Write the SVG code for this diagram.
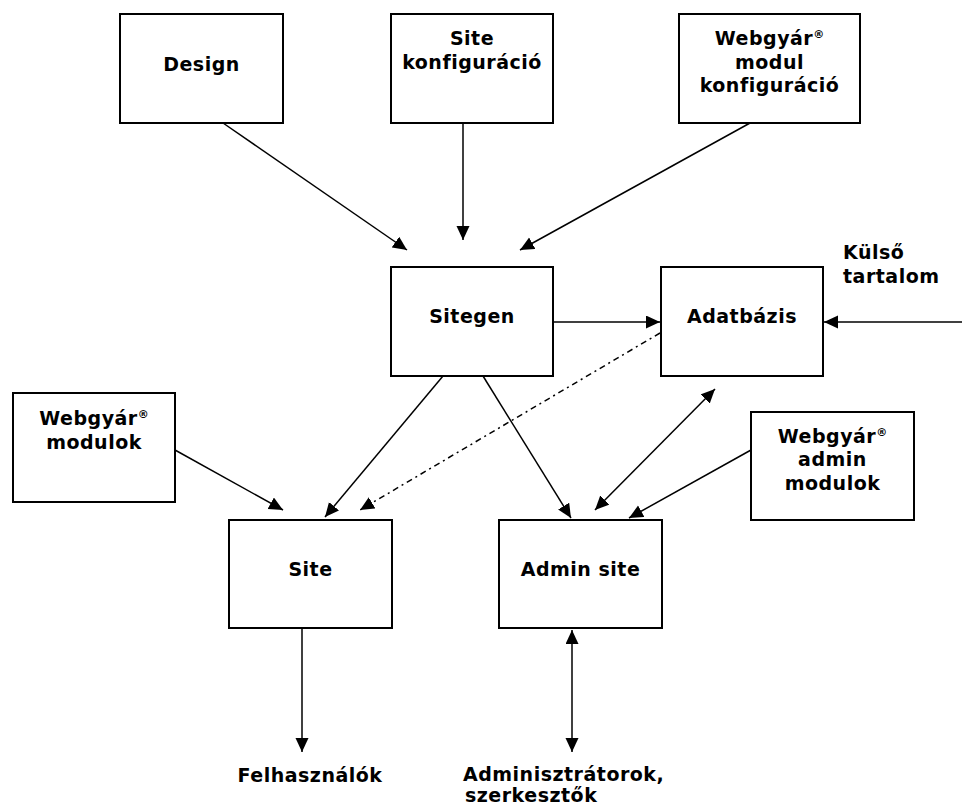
<svg xmlns="http://www.w3.org/2000/svg" width="962" height="807" viewBox="0 0 962 807">
<style>
.box{fill:#fff;stroke:#000;stroke-width:2}
.ln{fill:none;stroke:#000;stroke-width:1.5}
.dd{fill:none;stroke:#000;stroke-width:1.5;stroke-dasharray:6 4 2 4}
text{font-family:"DejaVu Sans","Verdana",sans-serif;font-weight:bold;font-size:19px;letter-spacing:0.5px;fill:#000}
.c{text-anchor:middle}
.r{font-size:11px;letter-spacing:0}
</style>
<defs>
<marker id="ah" markerUnits="userSpaceOnUse" markerWidth="16" markerHeight="14" refX="14" refY="6.5" orient="auto-start-reverse" viewBox="0 0 16 14">
<path d="M0,0 L14,6.5 L0,13 z" fill="#000"/>
</marker>
</defs>
<rect width="962" height="807" fill="#fff"/>
<g id="connectors">
<line class="ln" x1="223" y1="123" x2="407" y2="250" marker-end="url(#ah)"/>
<line class="ln" x1="463" y1="123" x2="463" y2="240" marker-end="url(#ah)"/>
<line class="ln" x1="750" y1="123" x2="520" y2="250" marker-end="url(#ah)"/>
<line class="ln" x1="553" y1="322" x2="660" y2="322" marker-end="url(#ah)"/>
<line class="ln" x1="962" y1="322" x2="824" y2="322" marker-end="url(#ah)"/>
<line class="dd" x1="660" y1="333" x2="360" y2="510" marker-end="url(#ah)"/>
<line class="ln" x1="443" y1="376" x2="325" y2="517" marker-end="url(#ah)"/>
<line class="ln" x1="483" y1="376" x2="571" y2="518" marker-end="url(#ah)"/>
<line class="ln" x1="715" y1="389" x2="595" y2="510" marker-start="url(#ah)" marker-end="url(#ah)"/>
<line class="ln" x1="751" y1="450" x2="629" y2="518" marker-end="url(#ah)"/>
<line class="ln" x1="175" y1="450" x2="283" y2="510" marker-end="url(#ah)"/>
<line class="ln" x1="302" y1="628" x2="302" y2="752" marker-end="url(#ah)"/>
<line class="ln" x1="572" y1="630" x2="572" y2="752" marker-start="url(#ah)" marker-end="url(#ah)"/>
</g>
<g id="design"><rect class="box" x="120" y="14" width="163" height="109"/><text class="c" x="201.5" y="71">Design</text></g>
<g id="site-konfig"><rect class="box" x="391" y="14" width="162" height="109"/><text class="c" x="472" y="45">Site</text><text class="c" x="472" y="69">konfiguráció</text></g>
<g id="modul-konfig"><rect class="box" x="679" y="14" width="181" height="109"/><text class="c" x="769.5" y="45">Webgyár<tspan class="r" dy="-7">®</tspan></text><text class="c" x="769.5" y="69">modul</text><text class="c" x="769.5" y="92">konfiguráció</text></g>
<g id="sitegen"><rect class="box" x="391" y="267" width="162" height="109"/><text class="c" x="472" y="323">Sitegen</text></g>
<g id="adatbazis"><rect class="box" x="661" y="267" width="162" height="109"/><text class="c" x="742" y="323">Adatbázis</text></g>
<g id="kulso"><text x="843" y="259">Külső</text><text x="843" y="283">tartalom</text></g>
<g id="modulok"><rect class="box" x="13" y="393" width="162" height="109"/><text class="c" x="94" y="425">Webgyár<tspan class="r" dy="-7">®</tspan></text><text class="c" x="94" y="449">modulok</text></g>
<g id="admin-modulok"><rect class="box" x="751" y="412" width="163" height="108"/><text class="c" x="832.5" y="443">Webgyár<tspan class="r" dy="-7">®</tspan></text><text class="c" x="832.5" y="466">admin</text><text class="c" x="832.5" y="490">modulok</text></g>
<g id="site"><rect class="box" x="229" y="520" width="163" height="108"/><text class="c" x="310.5" y="576">Site</text></g>
<g id="admin-site"><rect class="box" x="499" y="520" width="163" height="108"/><text class="c" x="580.5" y="576">Admin site</text></g>
<g id="felhasznalok"><text class="c" x="310" y="782">Felhasználók</text></g>
<g id="adminisztratorok"><text x="463" y="781">Adminisztrátorok,</text><text x="465" y="802">szerkesztők</text></g>
</svg>
